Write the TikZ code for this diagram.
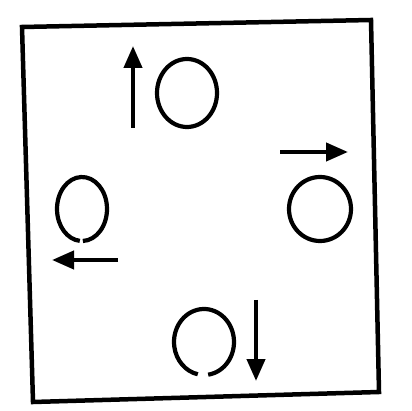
\documentclass[tikz,border=0pt]{standalone}
\usetikzlibrary{arrows.meta}
\begin{document}
\begin{tikzpicture}[x=1pt,y=-1pt,
  frame/.style={line width=4.5pt,line join=miter},
  ring/.style={line width=4.2pt},
  arr/.style={line width=4.2pt,-{Triangle[length=22pt,width=18pt]}}]
\useasboundingbox (0,0) rectangle (412,411);
% frame
\coordinate (tl) at (22,27);
\coordinate (tr) at (371,20);
\coordinate (br) at (379,392);
\coordinate (bl) at (33,402);
\draw[frame] (tl) -- (tr) -- (br) -- (bl) -- cycle;
% rings
\draw[ring] (187,93) ellipse [x radius=30, y radius=34];
\draw[ring] (320,209) ellipse [x radius=31, y radius=32];
\draw[ring] (82+25*cos -88,209-32*sin -88) arc[start angle=-88,end angle=265,x radius=25,y radius=-32];
\draw[ring] (204+30*cos -82,342-33*sin -82) arc[start angle=-82,end angle=258,x radius=30,y radius=-33];
% arrows
\coordinate (us) at (133,128); \coordinate (ue) at (133,46);
\coordinate (rs) at (280,152); \coordinate (re) at (348,152);
\coordinate (ls) at (118,260); \coordinate (le) at (52,260);
\coordinate (ds) at (256,300); \coordinate (de) at (256,381);
\draw[arr] (us) -- (ue);
\draw[arr] (rs) -- (re);
\draw[arr] (ls) -- (le);
\draw[arr] (ds) -- (de);
\end{tikzpicture}
\end{document}
